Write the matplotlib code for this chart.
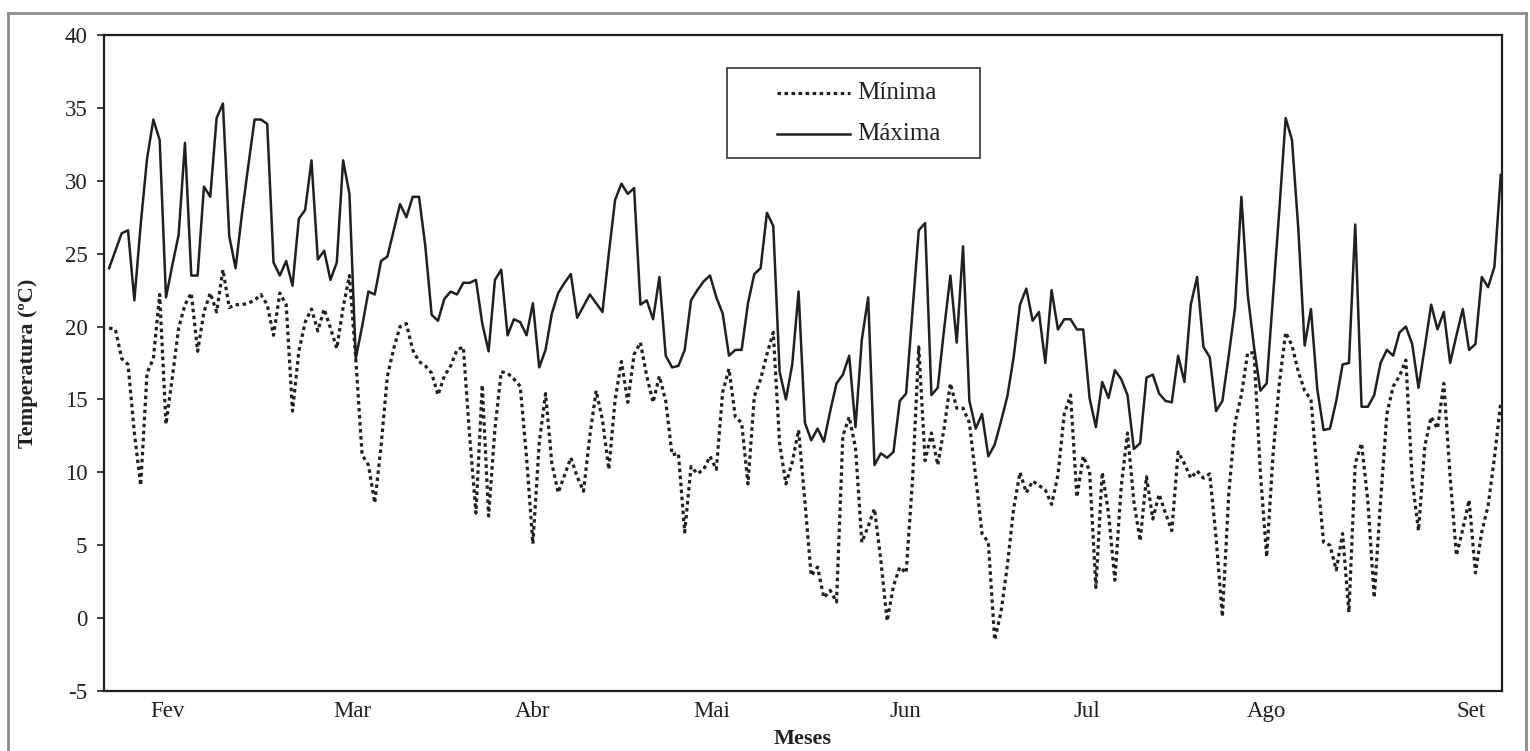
import matplotlib
matplotlib.use('Agg')
import matplotlib.pyplot as plt
from matplotlib.lines import Line2D
from matplotlib.patches import Rectangle

# temperaturas diárias (ºC), de fim de janeiro a início de setembro
maxima = [24.0, 25.2, 26.4, 26.6, 21.8, 27.0, 31.5, 34.2, 32.8, 22.0, 24.2, 26.3, 32.6, 23.5, 23.5, 29.6, 28.9, 34.3, 35.3, 26.2, 24.0, 27.7, 31.0, 34.2, 34.2, 33.9, 24.4,
          23.5, 24.5, 22.8, 27.4, 28.0, 31.4, 24.6, 25.2, 23.2, 24.4, 31.4, 29.1, 17.8, 20.0, 22.4, 22.2, 24.5, 24.8, 26.6, 28.4, 27.5, 28.9, 28.9, 25.5, 20.8, 20.4, 21.9, 22.4,
          22.2, 23.0, 23.0, 23.2, 20.2, 18.3, 23.2, 23.9, 19.4, 20.5, 20.3, 19.4, 21.6, 17.2, 18.4, 20.9, 22.3, 23.0, 23.6, 20.6, 21.4, 22.2, 21.6, 21.0, 25.0, 28.7, 29.8,
          29.1, 29.5, 21.5, 21.8, 20.5, 23.4, 18.0, 17.2, 17.3, 18.4, 21.8, 22.5, 23.1, 23.5, 22.0, 20.9, 18.0, 18.4, 18.4, 21.6, 23.6, 24.0, 27.8, 26.9, 16.9, 15.0, 17.4, 22.4,
          13.4, 12.2, 13.0, 12.1, 14.2, 16.1, 16.7, 18.0, 13.1, 19.1, 22.0, 10.5, 11.3, 11.0, 11.4, 14.9, 15.4, 21.0, 26.6, 27.1, 15.3, 15.8, 19.8, 23.5, 18.9, 25.5, 14.9,
          13.0, 14.0, 11.1, 11.9, 13.5, 15.2, 17.9, 21.5, 22.6, 20.4, 21.0, 17.5, 22.5, 19.8, 20.5, 20.5, 19.8, 19.8, 15.1, 13.1, 16.2, 15.1, 17.0, 16.4, 15.3, 11.6, 12.0, 16.5,
          16.7, 15.4, 14.9, 14.8, 18.0, 16.2, 21.5, 23.4, 18.6, 17.9, 14.2, 14.9, 18.0, 21.3, 28.9, 22.2, 18.6, 15.6, 16.1, 22.0, 28.0, 34.3, 32.8, 26.7, 18.7, 21.2, 15.7,
          12.9, 13.0, 14.9, 17.4, 17.5, 27.0, 14.5, 14.5, 15.3, 17.5, 18.4, 18.0, 19.6, 20.0, 18.8, 15.8, 18.6, 21.5, 19.8, 21.0, 17.5, 19.4, 21.2, 18.4, 18.8, 23.4, 22.7, 24.1, 30.4]

minima = [19.9, 19.8, 17.8, 17.4, 12.7, 9.1, 16.8, 17.8, 22.2, 13.3, 16.5, 19.9, 21.5, 22.3, 18.3, 21.0, 22.3, 21.0, 23.9, 21.3, 21.5, 21.5, 21.6, 21.8, 22.2, 21.5, 19.4,
          22.3, 21.5, 14.2, 18.3, 20.3, 21.2, 19.7, 21.2, 19.9, 18.5, 21.3, 23.5, 17.8, 11.2, 10.5, 7.9, 11.8, 16.6, 18.5, 20.0, 20.2, 18.4, 17.6, 17.3, 16.8, 15.3, 16.6, 17.3,
          18.4, 18.6, 12.5, 7.2, 16.0, 7.0, 13.0, 16.9, 16.8, 16.4, 15.9, 11.0, 5.1, 12.0, 15.4, 10.6, 8.6, 9.8, 11.0, 9.7, 8.7, 12.5, 15.6, 13.6, 10.2, 15.0, 17.6,
          14.8, 18.1, 18.9, 16.6, 14.8, 16.6, 14.9, 11.2, 11.3, 5.9, 10.4, 9.9, 10.2, 11.1, 10.2, 15.5, 17.1, 13.8, 13.4, 9.2, 15.2, 16.4, 18.1, 19.6, 12.0, 9.2, 10.7, 12.9,
          8.0, 2.9, 3.5, 1.4, 1.9, 1.1, 12.5, 13.8, 11.7, 5.2, 6.3, 7.5, 4.0, -0.2, 2.2, 3.5, 3.1, 9.4, 18.6, 10.8, 12.7, 10.5, 13.0, 16.1, 14.4, 14.4, 13.4,
          9.7, 5.8, 5.2, -1.5, 0.4, 3.6, 7.5, 10.0, 8.6, 9.4, 9.1, 8.8, 7.8, 9.8, 14.0, 15.3, 8.3, 11.1, 10.1, 2.1, 10.0, 7.2, 2.6, 9.0, 12.7, 8.0, 5.3, 9.7,
          6.8, 8.5, 7.2, 6.0, 11.4, 10.6, 9.6, 10.1, 9.6, 9.9, 5.5, 0.1, 8.5, 13.4, 15.3, 18.2, 18.2, 10.0, 4.2, 11.2, 16.1, 19.6, 18.7, 16.9, 15.6, 15.0, 9.8,
          5.2, 5.0, 3.3, 5.8, 0.4, 10.6, 12.0, 8.0, 1.4, 8.0, 14.0, 15.9, 16.6, 17.7, 9.5, 6.0, 11.8, 13.8, 13.0, 16.1, 9.7, 4.3, 6.1, 8.1, 3.1, 5.9, 7.7, 11.0, 14.8]

meses = ['Fev', 'Mar', 'Abr', 'Mai', 'Jun', 'Jul', 'Ago', 'Set']
pos_meses = [9.3, 38.5, 67.0, 95.2, 125.9, 154.5, 182.9, 215.3]

plt.rcParams['font.family'] = ['Liberation Serif', 'DejaVu Serif']
plt.rcParams['axes.unicode_minus'] = False
tinta = '#231f20'
W, H = 1530, 751

fig = plt.figure(figsize=(W / 100, H / 100), dpi=100)
ax = fig.add_axes([104 / W, 1 - 691 / H, 1398 / W, 656 / H])

dias = list(range(len(maxima)))
ax.plot(dias, minima, color=tinta, lw=2.3, linestyle=(0, (1.1, 1.1)), dash_capstyle='butt')
ax.plot(dias, maxima, color=tinta, lw=1.8)

ax.set_xlim(-0.8, len(maxima) - 0.8)
ax.set_ylim(-5, 40)
ax.set_yticks(range(-5, 41, 5))
ax.set_xticks(pos_meses)
ax.set_xticklabels(meses)
ax.tick_params(axis='y', direction='out', length=5, width=1.2, pad=7, labelsize=16.5, colors=tinta)
ax.tick_params(axis='x', length=0, pad=7, labelsize=16.5, colors=tinta)
for s in ax.spines.values():
    s.set_linewidth(1.6)
    s.set_color(tinta)

ax.set_ylabel('Temperatura (ºC)', fontsize=16, fontweight='bold', color=tinta)
ax.yaxis.set_label_coords(-0.047, 0.5)
ax.set_xlabel('Meses', fontsize=16, fontweight='bold', color=tinta)
ax.xaxis.set_label_coords(0.5, -0.058)

# legenda desenhada à mão (caixa retangular)
fig.add_artist(Rectangle((727 / W, 1 - 158 / H), 253 / W, 90 / H, transform=fig.transFigure,
                         fill=False, ec='#333333', lw=1.2))
fig.add_artist(Line2D([777 / W, 850 / W], [1 - 93 / H] * 2, transform=fig.transFigure,
                      color=tinta, lw=2.3, linestyle=(0, (1.1, 1.1)), dash_capstyle='butt'))
fig.add_artist(Line2D([777 / W, 850 / W], [1 - 134 / H] * 2, transform=fig.transFigure,
                      color=tinta, lw=1.8))
fig.text(857 / W, 1 - 93 / H, 'Mínima', fontsize=18, va='center', color=tinta)
fig.text(857 / W, 1 - 134 / H, 'Máxima', fontsize=18, va='center', color=tinta)

# moldura cinza externa
for xs, ys in [([8, 8], [13, H]), ([8, 1526], [13, 13]), ([1526, 1526], [13, H])]:
    fig.add_artist(Line2D([v / W for v in xs], [1 - v / H for v in ys], transform=fig.transFigure,
                          color='#8c8c8c', lw=2))

fig.savefig('out.png', dpi=100)
